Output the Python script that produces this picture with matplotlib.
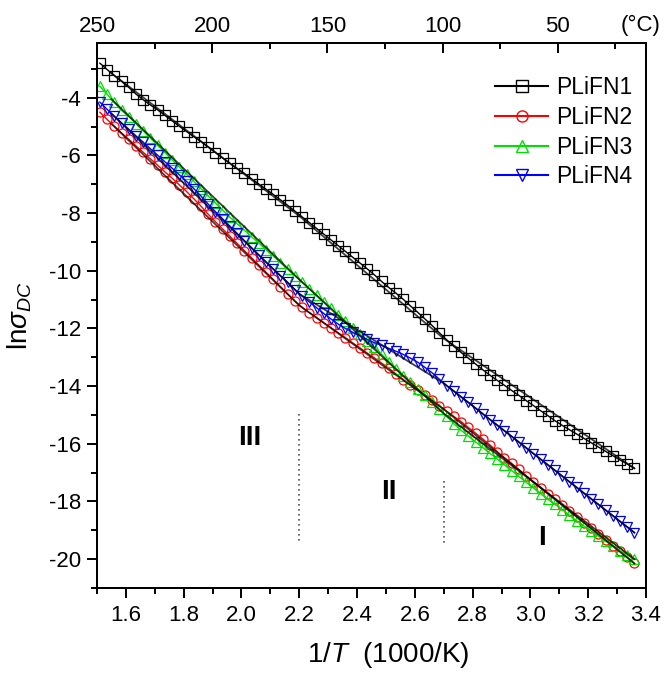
import matplotlib
matplotlib.use("Agg")
import matplotlib.pyplot as plt
from matplotlib.ticker import MultipleLocator
from matplotlib.lines import Line2D

plt.rcParams['font.family'] = ['Liberation Sans', 'DejaVu Sans']
plt.rcParams['mathtext.fontset'] = 'custom'
plt.rcParams['mathtext.rm'] = 'Liberation Sans'
plt.rcParams['mathtext.it'] = 'Liberation Sans:italic'
plt.rcParams['axes.unicode_minus'] = False

# 1/T (1000/K), shared by all four samples
inv_t = [1.51, 1.535, 1.56, 1.585, 1.61, 1.635, 1.66, 1.685, 1.71, 1.735,
         1.76, 1.785, 1.81, 1.835, 1.86, 1.885, 1.91, 1.935, 1.96, 1.985,
         2.01, 2.035, 2.06, 2.085, 2.11, 2.135, 2.16, 2.185, 2.21, 2.235,
         2.26, 2.285, 2.31, 2.335, 2.36, 2.385, 2.41, 2.435, 2.46, 2.485,
         2.51, 2.535, 2.56, 2.585, 2.61, 2.635, 2.66, 2.685, 2.71, 2.735,
         2.76, 2.785, 2.81, 2.835, 2.86, 2.885, 2.91, 2.935, 2.96, 2.985,
         3.01, 3.035, 3.06, 3.085, 3.11, 3.135, 3.16, 3.185, 3.21, 3.235,
         3.26, 3.285, 3.31, 3.335, 3.36]

plifn1 = [-2.80, -3.02, -3.23, -3.43, -3.64, -3.87, -4.07, -4.25, -4.42, -4.61,
          -4.80, -4.99, -5.17, -5.35, -5.52, -5.71, -5.90, -6.09, -6.27, -6.45,
          -6.62, -6.81, -6.99, -7.17, -7.35, -7.54, -7.73, -7.93, -8.13, -8.33,
          -8.53, -8.73, -8.93, -9.13, -9.33, -9.53, -9.73, -9.93, -10.14, -10.37,
          -10.58, -10.78, -10.99, -11.22, -11.44, -11.67, -11.90, -12.15, -12.39, -12.62,
          -12.83, -13.03, -13.23, -13.43, -13.62, -13.80, -13.97, -14.15, -14.32, -14.50,
          -14.67, -14.85, -15.02, -15.20, -15.36, -15.51, -15.66, -15.81, -15.96, -16.11,
          -16.26, -16.41, -16.56, -16.70, -16.85]

plifn2 = [-4.50, -4.75, -4.99, -5.22, -5.44, -5.67, -5.89, -6.12, -6.34, -6.57,
          -6.79, -7.02, -7.25, -7.50, -7.76, -8.04, -8.30, -8.55, -8.80, -9.05,
          -9.30, -9.55, -9.80, -10.05, -10.30, -10.55, -10.80, -11.05, -11.27, -11.45,
          -11.62, -11.80, -11.97, -12.15, -12.32, -12.50, -12.67, -12.85, -13.02, -13.20,
          -13.38, -13.58, -13.77, -13.95, -14.12, -14.30, -14.48, -14.68, -14.87, -15.05,
          -15.23, -15.43, -15.63, -15.83, -16.04, -16.27, -16.48, -16.68, -16.89, -17.12,
          -17.33, -17.53, -17.73, -17.93, -18.13, -18.33, -18.53, -18.73, -18.93, -19.13,
          -19.33, -19.53, -19.73, -19.93, -20.15]

plifn3 = [-3.60, -3.88, -4.16, -4.44, -4.65, -4.90, -5.15, -5.40, -5.65, -5.90,
          -6.15, -6.40, -6.65, -6.90, -7.15, -7.40, -7.65, -7.90, -8.14, -8.37,
          -8.59, -8.82, -9.04, -9.27, -9.49, -9.72, -9.94, -10.17, -10.39, -10.62,
          -10.84, -11.07, -11.29, -11.52, -11.74, -11.97, -12.19, -12.42, -12.65, -12.90,
          -13.15, -13.40, -13.64, -13.87, -14.09, -14.32, -14.55, -14.80, -15.05, -15.30,
          -15.53, -15.73, -15.93, -16.13, -16.33, -16.53, -16.73, -16.93, -17.13, -17.33,
          -17.53, -17.73, -17.92, -18.10, -18.28, -18.48, -18.67, -18.85, -19.02, -19.20,
          -19.37, -19.55, -19.72, -19.86, -20.00]

plifn4 = [-4.15, -4.40, -4.64, -4.87, -5.09, -5.32, -5.54, -5.77, -5.99, -6.22,
          -6.44, -6.67, -6.90, -7.15, -7.41, -7.69, -7.95, -8.20, -8.45, -8.70,
          -8.95, -9.20, -9.45, -9.70, -9.94, -10.17, -10.40, -10.65, -10.88, -11.08,
          -11.28, -11.48, -11.67, -11.85, -12.00, -12.13, -12.25, -12.38, -12.49, -12.59,
          -12.69, -12.79, -12.90, -13.03, -13.17, -13.35, -13.54, -13.76, -13.98, -14.17,
          -14.37, -14.56, -14.76, -14.96, -15.16, -15.35, -15.55, -15.74, -15.94, -16.14,
          -16.34, -16.53, -16.73, -16.92, -17.12, -17.32, -17.51, -17.71, -17.91, -18.10,
          -18.30, -18.49, -18.69, -18.88, -19.08]

# piecewise linear fits (regions III, II, I)
fit_x = [1.55, 2.2, 2.7, 3.36]
fit1 = [-3.15, -8.10, -12.35, -16.85]
fit2 = [-4.90, -11.20, -14.80, -20.15]
fit3 = [-4.05, -10.30, -14.95, -20.00]
fit4 = [-4.55, -10.80, -13.90, -19.08]

labels = ['PLiFN1', 'PLiFN2', 'PLiFN3', 'PLiFN4']
colors = ['#000000', '#ff0000', '#00e000', '#0000ff']
markers = ['s', 'o', '^', 'v']

top_ticks = [250, 200, 150, 100, 50]
top_minor = [225, 175, 125, 75, 25]

fig = plt.figure(figsize=(6.67, 6.73), dpi=100)
ax = fig.add_axes([0.1454, 0.1263, 0.8231, 0.8098])

series = [plifn1, plifn2, plifn3, plifn4]
fits = [fit1, fit2, fit3, fit4]
handles = []
for ys, fy, lab, c, m in zip(series, fits, labels, colors, markers):
    ax.plot(inv_t, ys, color=c, lw=1.0, marker=m, ms=6.5, mfc='none',
            mec=c, mew=0.9, zorder=2)
    ax.plot(fit_x, fy, color='black', lw=1.3, alpha=0.75, zorder=3)
    handles.append(Line2D([], [], color=c, lw=1.5, marker=m, ms=8,
                          mfc='none', mec=c, mew=1.0))

# region borders
ax.plot([2.2, 2.2], [-14.95, -19.4], color='#555555', lw=1.2, ls=(0, (1, 2)))
ax.plot([2.7, 2.7], [-17.3, -19.5], color='#555555', lw=1.2, ls=(0, (1, 2)))
ax.text(2.03, -15.8, 'III', fontsize=20, fontweight='bold', ha='center', va='center')
ax.text(2.51, -17.66, 'II', fontsize=20, fontweight='bold', ha='center', va='center')
ax.text(3.04, -19.28, 'I', fontsize=20, fontweight='bold', ha='center', va='center')

ax.set_xlim(1.5, 3.4)
ax.set_ylim(-21, -2.1)
ax.xaxis.set_minor_locator(MultipleLocator(0.1))
ax.yaxis.set_major_locator(MultipleLocator(2))
ax.yaxis.set_minor_locator(MultipleLocator(1))
ax.set_xticks([1.6, 1.8, 2.0, 2.2, 2.4, 2.6, 2.8, 3.0, 3.2, 3.4])
ax.set_xticklabels(['1.6', '1.8', '2.0', '2.2', '2.4', '2.6', '2.8', '3.0', '3.2', '3.4'])
ax.tick_params(which='both', direction='out', top=False, right=False,
               width=1.4, labelsize=16)
ax.tick_params(which='major', length=7.5)
ax.tick_params(which='minor', length=4.5)
ax.tick_params(axis='x', pad=5)
ax.tick_params(axis='y', pad=4)
for sp in ax.spines.values():
    sp.set_linewidth(1.4)

ax.set_xlabel(r'1/$T$  (1000/K)', fontsize=20)
ax.xaxis.set_label_coords(0.53, -0.095)
ax.set_ylabel(r'ln$\sigma_{DC}$', fontsize=20)
ax.yaxis.set_label_coords(-0.115, 0.5)

ax2 = ax.twiny()
ax2.set_xlim(250, 250 - 1.9 * 125.4)
ax2.set_xticks(top_ticks)
ax2.set_xticks(top_minor, minor=True)
ax2.set_xticklabels([str(t) for t in top_ticks])
ax2.tick_params(which='both', direction='in', width=1.4, labelsize=16, pad=4)
ax2.tick_params(which='major', length=7.5)
ax2.tick_params(which='minor', length=4.5)
for sp in ax2.spines.values():
    sp.set_linewidth(1.4)
ax.text(0.99, 1.012, '(\u00b0C)', transform=ax.transAxes, fontsize=16,
        ha='center', va='bottom')

ax.legend(handles, labels, loc='upper right', bbox_to_anchor=(1.0, 0.965),
          frameon=False, fontsize=16.5, handlelength=2.3, handletextpad=0.35,
          labelspacing=0.3, borderaxespad=0.2)

fig.savefig('out.png', dpi=100)
